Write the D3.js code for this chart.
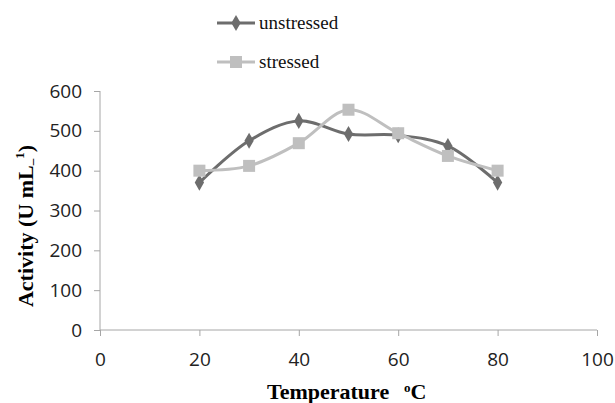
<!DOCTYPE html>
<html>
<head>
<meta charset="utf-8">
<script src="https://cdn.jsdelivr.net/npm/d3@7"></script>
<style>
body { margin: 0; background: #fff; }
</style>
</head>
<body>
<script>
// data
var temps = [20, 30, 40, 50, 60, 70, 80]
var unstressed = [370, 475, 525, 492, 489, 462, 370]
var stressed = [400, 412, 469, 553, 494, 437, 400]
var xTicks = [0, 20, 40, 60, 80, 100]
var yTicks = [0, 100, 200, 300, 400, 500, 600]
var seriesNames = ["unstressed", "stressed"]

var W = 615, H = 403
svg = d3.select("body").append("svg").attr("width", W).attr("height", H)

x = d3.scaleLinear().domain([0, 100]).range([100, 597])
y = d3.scaleLinear().domain([0, 600]).range([330, 91])

axisColor = "#a6a6a6"

// x axis
xAxis = svg.append("g").attr("transform", "translate(0," + y(0) + ")")
    .call(d3.axisBottom(x).tickValues(xTicks).tickSize(6).tickPadding(17))
xAxis.selectAll("path, line").attr("stroke", axisColor)
xAxis.select(".domain").attr("d", "M" + x(0) + ",0H" + x(100))
xAxis.selectAll("text").attr("font-family", "Open Sans, sans-serif").attr("font-size", 19).attr("fill", "#222")

// y axis
yAxis = svg.append("g").attr("transform", "translate(" + x(0) + ",0)")
    .call(d3.axisLeft(y).tickValues(yTicks).tickSize(6).tickPadding(12))
yAxis.selectAll("path, line").attr("stroke", axisColor)
yAxis.select(".domain").attr("d", "M0," + y(0) + "V" + y(600))
yAxis.selectAll("text").attr("font-family", "Open Sans, sans-serif").attr("font-size", 19).attr("fill", "#222")

// axis titles
xt = svg.append("text").attr("y", 399)
    .attr("font-family", "Liberation Serif, serif").attr("font-weight", "bold").attr("font-size", 22)
xt.append("tspan").attr("x", 267).text("Temperature")
xt.append("tspan").attr("x", 404).attr("font-size", 13).attr("dy", -7).text("o")
xt.append("tspan").attr("dy", 7).text("C")

yt = svg.append("text").attr("transform", "translate(33,226) rotate(-90)").attr("text-anchor", "middle")
    .attr("font-family", "Liberation Serif, serif").attr("font-weight", "bold").attr("font-size", 22)
yt.append("tspan").text("Activity (U mL")
yt.append("tspan").attr("font-size", 13).attr("dy", 3).text("\u2013")
yt.append("tspan").attr("font-size", 13).attr("dy", -12).text("1")
yt.append("tspan").attr("dy", 9).text(")")

colors = ["#6d6d6d", "#bfbfbf"]
allData = [unstressed, stressed]

line = d3.line().x((d, i) => x(temps[i])).y(d => y(d)).curve(d3.curveCatmullRom.alpha(0.5))

allData.forEach(function(vals, s) {
    svg.append("path").datum(vals).attr("d", line).attr("fill", "none")
        .attr("stroke", colors[s]).attr("stroke-width", 3)
})

// markers
diamond = d3.symbol().type(d3.symbolDiamond).size(75)
svg.selectAll(".dia").data(unstressed).enter().append("path").classed("dia", true)
    .attr("transform", (d, i) => "translate(" + x(temps[i]) + "," + y(d) + ")")
    .attr("d", diamond).attr("fill", colors[0])
svg.selectAll(".sq").data(stressed).enter().append("rect").classed("sq", true)
    .attr("x", (d, i) => x(temps[i]) - 6).attr("y", d => y(d) - 6)
    .attr("width", 12).attr("height", 12).attr("fill", colors[1])

// legend
legend = svg.selectAll(".legend").data(seriesNames).enter().append("g").classed("legend", true)
    .attr("transform", (d, i) => "translate(217," + (23 + i * 39) + ")")
legend.append("line").attr("x1", 0).attr("x2", 38).attr("y1", 0).attr("y2", 0)
    .attr("stroke", (d, i) => colors[i]).attr("stroke-width", 3)
legend.each(function(d, i) {
    g = d3.select(this)
    if (i == 0) g.append("path").attr("d", diamond).attr("transform", "translate(19,0)").attr("fill", colors[0])
    else g.append("rect").attr("x", 13).attr("y", -6).attr("width", 12).attr("height", 12).attr("fill", colors[1])
})
legend.append("text").attr("x", 42).attr("y", 6).text(d => d)
    .attr("font-family", "Liberation Serif, serif").attr("font-size", 19).attr("fill", "#111")
</script>
</body>
</html>
